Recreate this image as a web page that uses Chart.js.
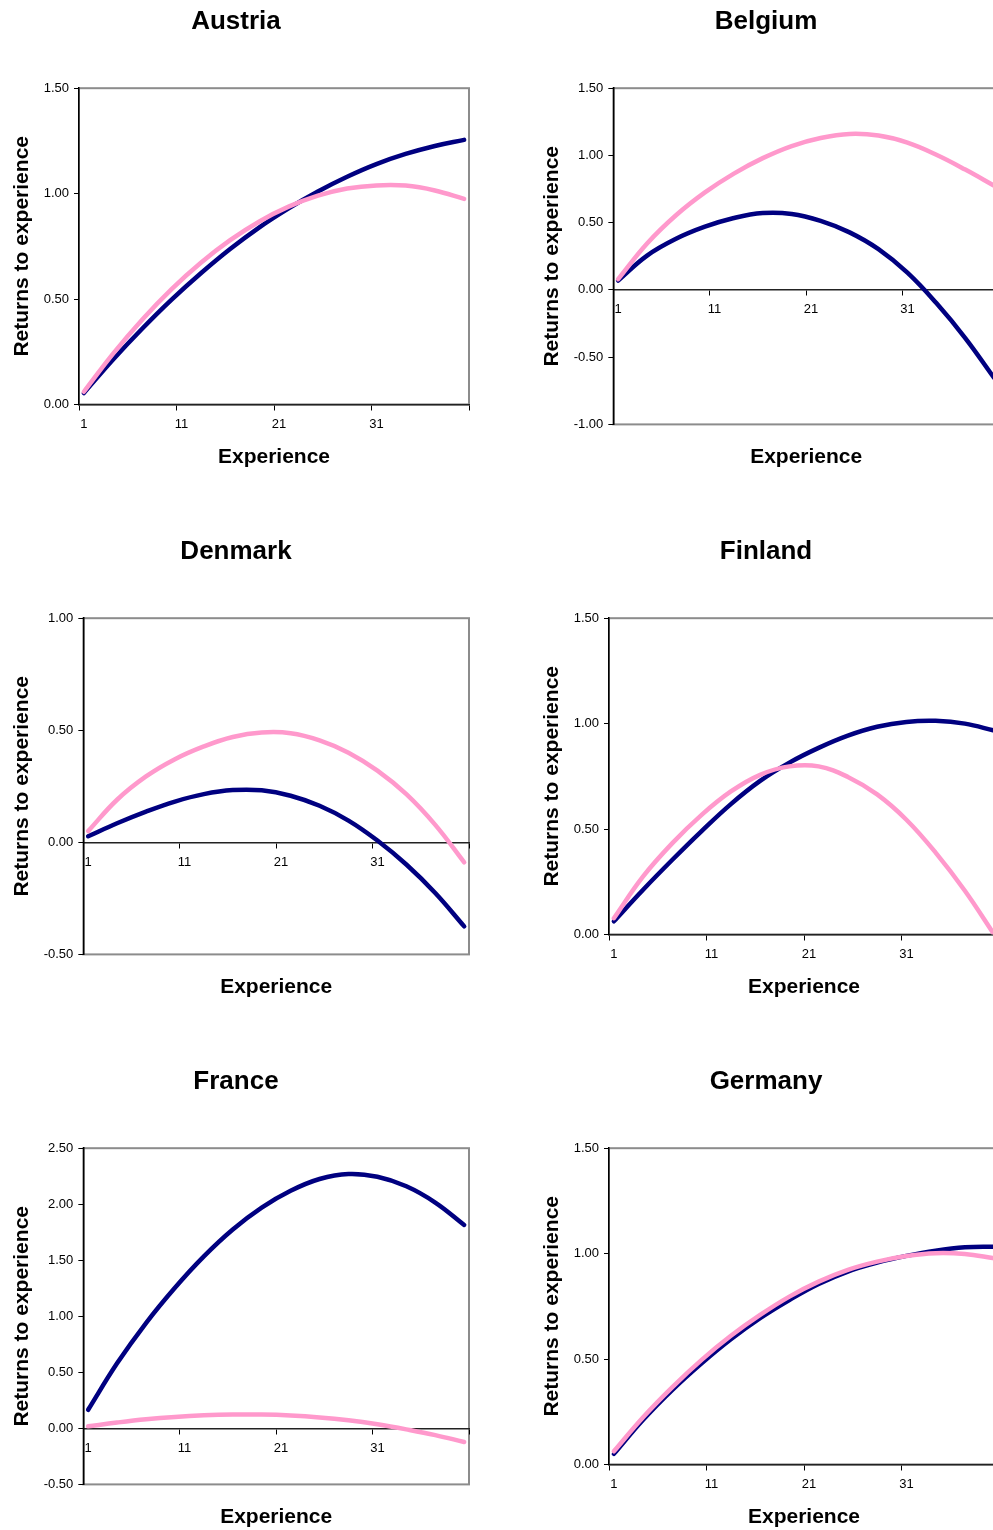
<!DOCTYPE html>
<html lang="en">
<head>
  <meta charset="UTF-8" />
  <title>Returns to experience</title>
  <script src="https://cdn.jsdelivr.net/npm/chart.js"></script>
  <style>
    body {
      margin: 0;
      background: #fff;
    }

    #page {
      position: relative;
      width: 993px;
      height: 1530px;
      overflow: hidden;
    }

    .panel {
      position: absolute;
      width: 475px;
      height: 480px;
    }
  </style>
</head>
<body>
  <div id="page"></div>

  <script>
    // x axis: years of experience 1..40, labels shown every 10
    const experience = Array.from({ length: 40 }, (_, i) => String(i + 1));
    const samples = [1, 4, 7, 10, 13, 16, 19, 22, 25, 28, 31, 34, 37, 40];

    const austriaNavy = [0.054, 0.213, 0.36, 0.497, 0.622, 0.737, 0.84, 0.93, 1.01, 1.08, 1.14, 1.188, 1.226, 1.255];
    const austriaPink = [0.06, 0.241, 0.403, 0.547, 0.672, 0.779, 0.868, 0.938, 0.99, 1.024, 1.039, 1.038, 1.015, 0.975];

    const belgiumNavy = [0.07, 0.255, 0.38, 0.47, 0.535, 0.572, 0.565, 0.513, 0.428, 0.303, 0.128, -0.098, -0.358, -0.655];
    const belgiumPink = [0.08, 0.345, 0.555, 0.725, 0.865, 0.98, 1.07, 1.13, 1.16, 1.148, 1.095, 1.005, 0.895, 0.775];

    const denmarkNavy = [0.027, 0.085, 0.137, 0.182, 0.215, 0.233, 0.232, 0.208, 0.163, 0.097, 0.008, -0.099, -0.226, -0.375];
    const denmarkPink = [0.05, 0.19, 0.294, 0.371, 0.428, 0.47, 0.49, 0.487, 0.455, 0.40, 0.32, 0.215, 0.078, -0.089];

    const finlandNavy = [0.062, 0.212, 0.354, 0.49, 0.618, 0.728, 0.815, 0.885, 0.943, 0.985, 1.008, 1.013, 1.0, 0.967];
    const finlandPink = [0.077, 0.275, 0.433, 0.567, 0.678, 0.757, 0.797, 0.797, 0.747, 0.664, 0.544, 0.388, 0.207, 0.0];

    const franceNavy = [0.166, 0.58, 0.94, 1.255, 1.535, 1.775, 1.97, 2.12, 2.225, 2.27, 2.245, 2.16, 2.015, 1.815];
    const francePink = [0.018, 0.052, 0.081, 0.102, 0.116, 0.123, 0.123, 0.115, 0.098, 0.072, 0.036, -0.009, -0.06, -0.122];

    const germanyNavy = [0.05, 0.212, 0.354, 0.48, 0.594, 0.694, 0.78, 0.856, 0.915, 0.957, 0.989, 1.014, 1.03, 1.033];
    const germanyPink = [0.062, 0.224, 0.367, 0.496, 0.61, 0.709, 0.796, 0.867, 0.923, 0.962, 0.989, 1.002, 0.998, 0.978];

    // y axis ranges [min, max]
    const austriaRange = [0, 1.5];
    const belgiumRange = [-1, 1.5];
    const denmarkRange = [-0.5, 1];
    const finlandRange = [0, 1.5];
    const franceRange = [-0.5, 2.5];
    const germanyRange = [0, 1.5];

    const panels = [
      { name: 'Austria', navy: austriaNavy, pink: austriaPink, range: austriaRange, col: 0, row: 0 },
      { name: 'Belgium', navy: belgiumNavy, pink: belgiumPink, range: belgiumRange, col: 1, row: 0 },
      { name: 'Denmark', navy: denmarkNavy, pink: denmarkPink, range: denmarkRange, col: 0, row: 1 },
      { name: 'Finland', navy: finlandNavy, pink: finlandPink, range: finlandRange, col: 1, row: 1 },
      { name: 'France', navy: franceNavy, pink: francePink, range: franceRange, col: 0, row: 2 },
      { name: 'Germany', navy: germanyNavy, pink: germanyPink, range: germanyRange, col: 1, row: 2 }
    ];

    Chart.defaults.font.family = "'Liberation Sans', Arial, Helvetica, sans-serif";
    Chart.defaults.color = '#000';

    // grey box round the plot area, under the axes
    const framePlugin = {
      id: 'frame',
      beforeDraw(chart) {
        const { ctx, chartArea: a } = chart;
        ctx.save();
        ctx.strokeStyle = '#8c8c8c';
        ctx.lineWidth = 2;
        ctx.strokeRect(a.left, a.top, a.right - a.left, a.bottom - a.top);
        ctx.restore();
      }
    };

    const toPoints = values => samples.map((c, i) => ({ x: String(c), y: values[i] }));

    function makeChart(p) {
      const box = document.createElement('div');
      box.className = 'panel';
      box.style.left = (p.col * 530) + 'px';
      box.style.top = (p.row * 530) + 'px';
      const canvas = document.createElement('canvas');
      box.appendChild(canvas);
      document.getElementById('page').appendChild(box);

      const crossesInside = p.range[0] < 0;

      new Chart(canvas, {
        type: 'line',
        data: {
          labels: experience,
          datasets: [
            {
              data: toPoints(p.navy),
              borderColor: '#000080',
              borderWidth: 4.5,
              order: 1
            },
            {
              data: toPoints(p.pink),
              borderColor: '#ff99cc',
              borderWidth: 4.5,
              order: 0
            }
          ]
        },
        options: {
          responsive: true,
          maintainAspectRatio: false,
          animation: false,
          layout: { padding: { left: 3, right: 6, top: 0, bottom: 5 } },
          elements: {
            point: { radius: 0 },
            line: { tension: 0.4, borderCapStyle: 'round', borderJoinStyle: 'round', fill: false }
          },
          plugins: {
            legend: { display: false },
            tooltip: { enabled: false },
            title: {
              display: true,
              text: p.name,
              font: { size: 26, weight: 'bold' },
              color: '#000',
              padding: { top: 6, bottom: 51 }
            }
          },
          scales: {
            x: {
              type: 'category',
              position: { y: 0 },
              offset: true,
              afterFit(scale) { scale.height = 0; },
              grid: {
                offset: true,
                drawOnChartArea: false,
                tickLength: 5,
                lineWidth: 1,
                color: ctx => (ctx.index === undefined || ctx.index % 10 === 0) ? '#000' : 'rgba(0,0,0,0)'
              },
              border: { color: '#222', width: 1.5 },
              ticks: {
                autoSkip: false,
                maxRotation: 0,
                minRotation: 0,
                padding: 7,
                color: '#000',
                font: { size: 13 },
                callback(v, i) { return i % 10 === 0 ? this.getLabelForValue(v) : ''; }
              }
            },
            xTitle: {
              type: 'category',
              axis: 'x',
              position: 'bottom',
              offset: true,
              grid: { display: false, drawTicks: false },
              border: { display: false },
              ticks: { display: false },
              title: {
                display: true,
                text: 'Experience',
                font: { size: 21, weight: 'bold' },
                color: '#000',
                padding: { top: crossesInside ? 20.4 : 40.4, bottom: 5 }
              }
            },
            y: {
              min: p.range[0],
              max: p.range[1],
              ticks: {
                stepSize: 0.5,
                padding: 5,
                color: '#000',
                font: { size: 13 },
                callback: v => v.toFixed(2)
              },
              grid: { drawOnChartArea: false, tickLength: 5, color: '#000' },
              border: { color: '#000', width: 1.5 },
              title: {
                display: true,
                text: 'Returns to experience',
                font: { size: 21, weight: 'bold' },
                color: '#000',
                padding: { top: 6.4, bottom: 4.1 }
              }
            }
          }
        },
        plugins: [framePlugin]
      });
    }

    panels.forEach(makeChart);
  </script>
</body>
</html>
